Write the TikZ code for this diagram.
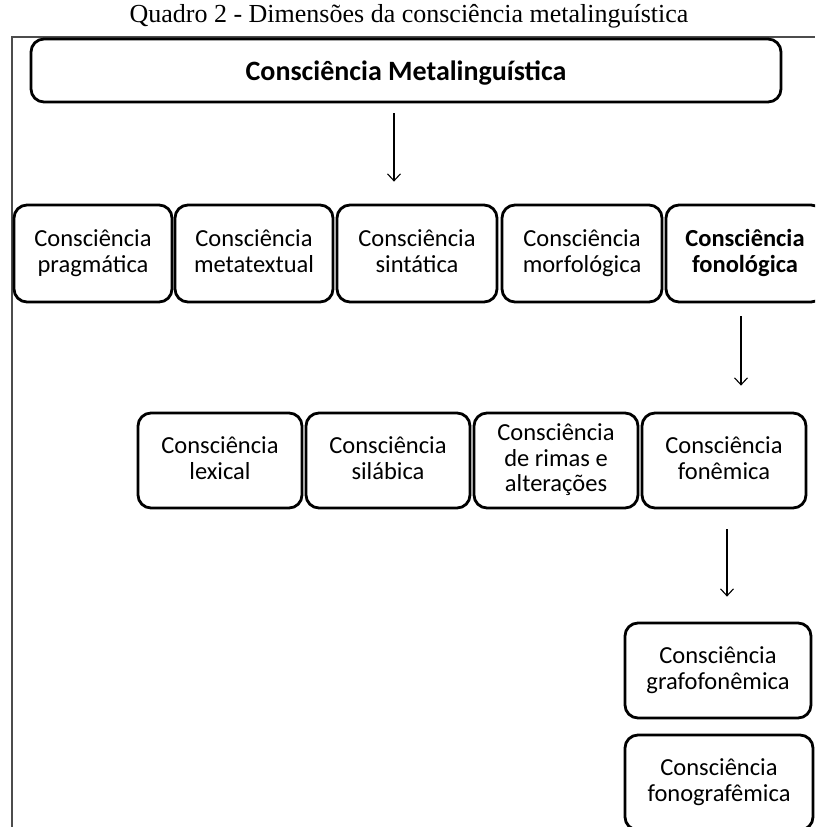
\documentclass[tikz,border=0pt]{standalone}
\usepackage{fontspec}
\setmainfont{Liberation Serif}
\newfontfamily\calibri{Carlito}
\usetikzlibrary{arrows.meta}
\newcommand{\fs}{\fontsize{24.5}{25.5}\selectfont}
\newcommand{\altura}{\rule{0pt}{25pt}}
\newcommand{\fundo}{\rule[-5pt]{0pt}{5pt}}

\begin{document}
\begin{tikzpicture}[x=1pt,y=-1pt,
    caixa/.style={draw, line width=2.8pt, rounded corners=13pt, align=center,
                  inner sep=0pt, font=\calibri\fs,
                  execute at begin node=\altura, execute at end node=\fundo},
    seta/.style={line width=1.1pt, -{Straight Barb[width=13pt,length=7pt]}}]
   \useasboundingbox (0,0) rectangle (815,827);
   \clip (0,0) rectangle (815,827);
   % moldura
   \draw[line width=1.3pt, black!70] (12,827) -- (12,37) -- (815,37);
   \node (titulo) at (409,22) [anchor=base, font=\fontsize{26}{30}\selectfont]
      {Quadro 2 - Dimensões da consciência metalinguística};
   \node[caixa, minimum width=750, minimum height=63, font=\calibri\bfseries\fontsize{28}{30}\selectfont]
      (meta) at (406,70.5) {Consciência Metalinguística};
   % primeira linha
   \node[caixa, minimum width=158, minimum height=97] (prag)  at ( 93,253.5) {Consciência\\pragmática};
   \node[caixa, minimum width=158, minimum height=97] (metat) at (254,253.5) {Consciência\\metatextual};
   \node[caixa, minimum width=160, minimum height=97] (sint)  at (417,253.5) {Consciência\\sintática};
   \node[caixa, minimum width=160, minimum height=97] (morf)  at (582,253.5) {Consciência\\morfológica};
   \node[caixa, minimum width=158, minimum height=97, font=\calibri\bfseries\fs]
      (fonol) at (745,253.5) {Consciência\\fonológica};
   % segunda linha
   \node[caixa, minimum width=164, minimum height=95] (lex)   at (220,460.5) {Consciência\\lexical};
   \node[caixa, minimum width=164, minimum height=95] (sil)   at (388,460.5) {Consciência\\silábica};
   \node[caixa, minimum width=164, minimum height=95] (rimas) at (556,460.5) {Consciência\\de rimas e\\alterações};
   \node[caixa, minimum width=164, minimum height=95] (fonem) at (724,460.5) {Consciência\\fonêmica};
   % terceira coluna
   \node[caixa, minimum width=186, minimum height=95] (grafo) at (718,670.5) {Consciência\\grafofonêmica};
   \node[caixa, minimum width=188, minimum height=95] (fonog) at (719,782.5) {Consciência\\fonografêmica};
   % setas
   \draw[seta] ([xshift=-12pt,yshift=-10pt]meta.south) -- ([xshift=-23pt,yshift=22pt]sint.north);
   \draw[seta] ([xshift=-4pt,yshift=-13pt]fonol.south) -- ([xshift=17pt,yshift=26pt]fonem.north);
   \draw[seta] ([xshift=3pt,yshift=-20pt]fonem.south)  -- ([xshift=9pt,yshift=25pt]grafo.north);
\end{tikzpicture}
\end{document}
